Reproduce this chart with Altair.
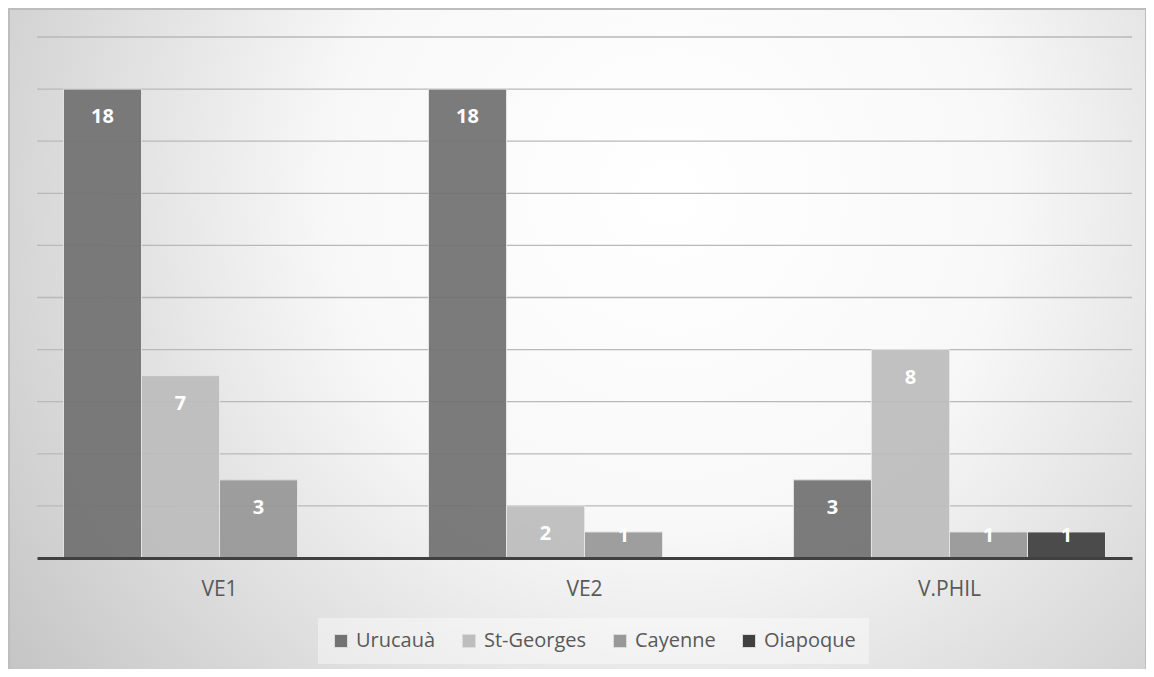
import altair as alt
import pandas as pd

# ---- data ----
categories = ["VE1", "VE2", "V.PHIL"]
series = ["Urucauà", "St-Georges", "Cayenne", "Oiapoque"]
urucaua = [18, 18, 3]
st_georges = [7, 2, 8]
cayenne = [3, 1, 1]
oiapoque = [None, None, 1]
grid_values = [2, 4, 6, 8, 10, 12, 14, 16, 18, 20]
colors = ["#727272", "#bdbdbd", "#989898", "#404040"]

rows = []
for name, vals in zip(series, [urucaua, st_georges, cayenne, oiapoque]):
    for cat, v in zip(categories, vals):
        if v is not None:
            rows.append({"cat": cat, "serie": name, "value": v})
df = pd.DataFrame(rows)

W, H = 1095, 521
PAD = {"left": 29, "top": 29, "right": 14, "bottom": 111}

yscale = alt.Scale(domain=[0, 20], nice=False, zero=True)
xscale = alt.Scale(domain=categories, paddingInner=0.145, paddingOuter=0.0726)
offscale = alt.Scale(domain=series, paddingInner=0, paddingOuter=0)
color = alt.Color(
    "serie:N",
    scale=alt.Scale(domain=series, range=colors),
    legend=alt.Legend(
        title=None,
        orient="none",
        legendX=281,
        legendY=581,
        direction="horizontal",
        symbolType="square",
        symbolSize=170,
        symbolStrokeColor="#dcdcdc",
        symbolStrokeWidth=1,
        symbolOpacity=1,
        labelFont="Open Sans",
        labelFontSize=20,
        labelColor="#595959",
        labelOffset=5,
        columnPadding=23,
        padding=13,
        fillColor="rgba(255,255,255,0.4)",
    ),
)

# background panel with radial gradient
bg = alt.Chart(pd.DataFrame({"a": [0]})).mark_rect(
    clip=False,
    color=alt.Gradient(
        gradient="radial",
        x1=0.58, y1=0.37, r1=0.0,
        x2=0.58, y2=0.37, r2=0.78,
        stops=[
            alt.GradientStop(color="#ffffff", offset=0.0),
            alt.GradientStop(color="#f8f8f8", offset=0.38),
            alt.GradientStop(color="#bdbdbd", offset=1.0),
        ],
    ),
    stroke="#bdbdbd",
    strokeWidth=2,
).encode(
    x=alt.value(-28), x2=alt.value(W + PAD["right"]),
    y=alt.value(-28), y2=alt.value(H + PAD["bottom"] + 2),
)

grid = alt.Chart(pd.DataFrame({"g": grid_values})).mark_rule(
    color="#b9b9b9", strokeWidth=1.3
).encode(y=alt.Y("g:Q", scale=yscale, axis=None))

base = alt.Chart(df)

bars = base.mark_bar(
    stroke="#e4e4e4", strokeWidth=1, opacity=0.93
).encode(
    x=alt.X(
        "cat:N",
        scale=xscale,
        sort=categories,
        title=None,
        axis=alt.Axis(
            labelAngle=0,
            labelFont="Open Sans",
            labelFontSize=21,
            labelColor="#595959",
            labelPadding=20,
            ticks=False,
            domainColor="#404040",
            domainWidth=3,
            zindex=1,
        ),
    ),
    xOffset=alt.XOffset("serie:N", scale=offscale, sort=series),
    y=alt.Y("value:Q", scale=yscale, axis=None),
    color=color,
)

txt_style = dict(
    color="white", font="Open Sans", fontWeight="bold", fontSize=20,
    baseline="middle", align="center",
)
enc = dict(
    x=alt.X("cat:N", scale=xscale, sort=categories),
    xOffset=alt.XOffset("serie:N", scale=offscale, sort=series),
    y=alt.Y("value:Q", scale=yscale),
    text=alt.Text("value:Q"),
)
labels_big = base.transform_filter("datum.value >= 2").mark_text(dy=28, **txt_style).encode(**enc)
labels_small = base.transform_filter("datum.value < 2").mark_text(dy=4, **txt_style).encode(**enc)

chart = alt.layer(bg, grid, bars, labels_big, labels_small).properties(
    width=W,
    height=H,
    padding=PAD,
    autosize=alt.AutoSizeParams(type="none"),
).configure_view(stroke=None).configure(background="#d0d0d0")

chart.save("out.html", embed_options={"renderer": "svg", "actions": False})
